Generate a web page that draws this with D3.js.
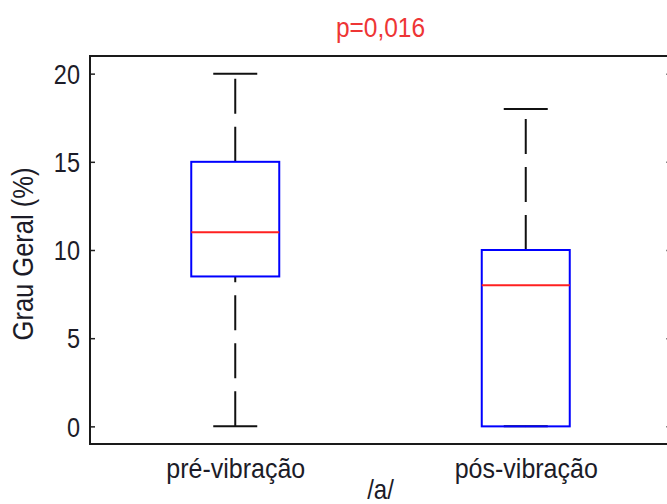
<!DOCTYPE html>
<html>
<head>
<meta charset="utf-8">
<script src="https://cdn.jsdelivr.net/npm/d3@7"></script>
<style>
  body { margin: 0; background: #fff; }
  text { font-family: Arial, "Liberation Sans", sans-serif; }
</style>
</head>
<body>
<svg id="chart" width="667" height="504"></svg>
<script>
// Box-plot summary per group
const categories = ["pré-vibração", "pós-vibração"];
const lowerWhisker = [0, 0];
const q1 = [8.5, 0];
const median = [11, 8];
const q3 = [15, 10];
const upperWhisker = [20, 18];
const yTicks = [0, 5, 10, 15, 20];
const title = "p=0,016";
const yLabel = "Grau Geral (%)";
const xLabel = "/a/";

const svg = d3.select("#chart");
const margin = { left: 90, top: 56, right: -4, bottom: 60 };
const W = 667, H = 504;
const x0 = margin.left, x1 = W - margin.right;
const y0 = margin.top, y1 = H - margin.bottom;

// text is drawn slightly tall and narrow
const stretch = 1.14;
const ink = "#1c1c28";

const x = d3.scalePoint().domain(categories).range([x0, x1]).padding(0.5);
const y = d3.scaleLinear().domain([-1, 21]).range([y1, y0]);

const boxW = 88, capW = 44;

// axes frame
const g = svg.append("g");
const yAxis = d3.axisLeft(y).tickValues(yTicks).tickSize(-5).tickPadding(10);
const yAxisR = d3.axisRight(y).tickValues(yTicks).tickSize(-5).tickFormat("");
const xAxis = d3.axisBottom(x).tickSize(0).tickPadding(0);

g.append("g").attr("transform", `translate(${x0},0)`).call(yAxis)
  .call(s => s.select(".domain").remove())
  .call(s => s.selectAll("text").attr("font-size", 23.5).attr("fill", ink)
    .attr("dy", "0.36em").attr("transform", `scale(1,${stretch})`))
  .call(s => s.selectAll("line").attr("stroke", "#222").attr("stroke-width", 1.5));
g.append("g").attr("transform", `translate(${x1},0)`).call(yAxisR)
  .call(s => s.select(".domain").remove())
  .call(s => s.selectAll("line").attr("stroke", "#888").attr("stroke-width", 1.5));
g.append("g").attr("transform", `translate(0,${y1})`).call(xAxis)
  .call(s => s.select(".domain").remove())
  .call(s => s.selectAll("text").attr("font-size", 25).attr("fill", ink)
    .attr("y", 0).attr("dy", 0)
    .attr("transform", `translate(0,34) scale(1,${stretch})`));

g.append("rect")
  .attr("x", x0).attr("y", y0).attr("width", x1 - x0).attr("height", y1 - y0)
  .attr("fill", "none").attr("stroke", "#1a1a1a").attr("stroke-width", 2);

// boxes
const data = categories.map((c, i) => ({
  c, lo: lowerWhisker[i], q1: q1[i], med: median[i], q3: q3[i], hi: upperWhisker[i]
}));

const bg = svg.append("g").selectAll("g").data(data).join("g");

// whiskers: drawn upward in data direction
bg.append("line")
  .attr("x1", d => x(d.c)).attr("x2", d => x(d.c))
  .attr("y1", d => y(d.q3)).attr("y2", d => y(d.hi))
  .attr("stroke", "#111").attr("stroke-width", 2).attr("stroke-dasharray", "35,13");
bg.append("line")
  .attr("x1", d => x(d.c)).attr("x2", d => x(d.c))
  .attr("y1", d => y(d.lo)).attr("y2", d => y(d.q1))
  .attr("stroke", "#111").attr("stroke-width", 2).attr("stroke-dasharray", "35,13");
// caps
bg.append("line")
  .attr("x1", d => x(d.c) - capW / 2).attr("x2", d => x(d.c) + capW / 2)
  .attr("y1", d => y(d.hi)).attr("y2", d => y(d.hi))
  .attr("stroke", "#111").attr("stroke-width", 2);
bg.append("line")
  .attr("x1", d => x(d.c) - capW / 2).attr("x2", d => x(d.c) + capW / 2)
  .attr("y1", d => y(d.lo)).attr("y2", d => y(d.lo))
  .attr("stroke", "#111").attr("stroke-width", 2);
// box
bg.append("rect")
  .attr("x", d => x(d.c) - boxW / 2).attr("width", boxW)
  .attr("y", d => y(d.q3)).attr("height", d => y(d.q1) - y(d.q3))
  .attr("fill", "none").attr("stroke", "#0000ff").attr("stroke-width", 2);
// median
bg.append("line")
  .attr("x1", d => x(d.c) - boxW / 2).attr("x2", d => x(d.c) + boxW / 2)
  .attr("y1", d => y(d.med)).attr("y2", d => y(d.med))
  .attr("stroke", "#ff2020").attr("stroke-width", 2);

// labels
const cx = (x0 + x1) / 2;
svg.append("text").attr("transform", `translate(${cx},37) scale(1,${stretch})`)
  .attr("text-anchor", "middle")
  .attr("font-size", 24.5).attr("fill", "#ee3535").text(title);
svg.append("text").attr("transform", `translate(${cx},499) scale(1,${stretch})`)
  .attr("text-anchor", "middle")
  .attr("font-size", 24).attr("fill", ink).text(xLabel);
svg.append("text").attr("transform", `translate(33,254) rotate(-90) scale(1,${stretch})`)
  .attr("text-anchor", "middle").attr("font-size", 25.5).attr("fill", ink).text(yLabel);
</script>
</body>
</html>
